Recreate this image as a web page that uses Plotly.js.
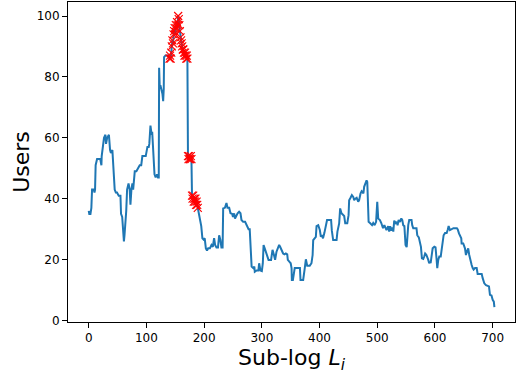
<!DOCTYPE html>
<html>
<head>
<meta charset="utf-8">
<script src="https://cdn.plot.ly/plotly-3.0.1.min.js"></script>
<style>html,body{margin:0;padding:0;background:#fff;}#chart{width:519px;height:374px;}</style>
</head>
<body>
<div id="chart"></div>
<script>
// Sub-log index (x) and number of users (y)
const subLog = [
  0,1,3,4.6,5.8,8.7,10,11,12,14.5,20,21,22,22.5,25,26.5,29,30,32,35,37,38.5,41,43.4,45,47,49,52,55,56,58,59.5,61,62,63.5,65,66.5,69,71,72.3,74,75.7,77,78.6,79.8,82.6,85.5,88.4,91,93,98.8,100,101.7,104,105,107,109,110,111.5,114,116,118.5,120,121.4,122,123,124.5,127.7,129,130,130.6,133,137.5,139,
  140,141,142,143,144,145,146,147,148,149,150,151,152,153,154,155,156,157,158,159,160,161,162,163,164,165,166,167,168,169,170,171,172,173,174,175,176,177,178,179,180,181,182,183,184,185,186,187,188,189,
  192.5,195,197,199,201,203,205,207,210,212.7,215,217.3,219,221.4,224,226,228,230,232,233,236,238.7,240.5,243.4,245.7,248.6,250,252,253.5,256,258,260.6,263,264.7,267.6,271,273.4,277,279,280.6,282.3,285,287,287.8,291,294,295.3,297.6,300,301.7,303,305,308,310,311.6,316,318.5,320.8,323,325.4,328,330,331.7,334,336.9,339.3,341.6,344,345,347.6,350,351.5,352,353.8,355.5,357,363,366,367,371.6,374,376.3,378.6,383,386,388,389,391.4,393.6,394.8,397.7,400.5,402.3,404,406,408.3,411,413,416.4,420,421.3,423.6,429.5,431,434,435.7,438,439.5,442.7,444.5,448,450.3,451.3,453.7,456,458.4,460,462,464.3,467,468.6,471,473,474.7,476,477.3,479.8,481.5,482.7,484,485,487.4,491,493,495.4,498,499,500,501.7,504.6,507,510,512.3,514.3,516,519,520.7,522.4,524.1,526,527.8,529.4,531.7,533.5,535.2,537,539.4,541.7,543.4,545,547,548,549,551,552,553.7,555.4,559.4,560.6,562.4,568,569.3,572,574,575.7,577.4,579.7,581.4,583,585,586.7,588.4,590,591.4,592.5,594.2,596,598.9,601,602.9,604,605.7,607.5,610,611.6,613.3,615,617.4,620.3,622,623.7,626,629,632,638,639.5,641.6,643.3,645.6,646.2,649,652,653.7,655.4,657.6,659.4,661,663.6,665.4,667,669.4,672.3,674,681,682.7,685.5,688.4,691.3,693.6,695.3,698,700,702,703
];
const users = [
  36,35,35,37,43,43,42,43,51,53,53,51,51,54,58,60,61,58,60,61,56,55,56,50,43,42,42,41,41,35,34,30,26,28,31,36,43,45,43,38,43,45,43,46,49,49,50,51,51,54,54,55.5,57,57,58,64,61,62,56.5,48,47,48,47,47,83,77,77,74.5,72,76,86.5,87,87,86,
  86,87,86,88,90,92,91,94,95,96,94,97,96,98,97,100,99,97,95,93,92,91,90,89,89,88,87,88,87,86,87,86,54,53,54,53,53,54,53,41,40,41,39,40,39,40,38,39,38,37,
  33,31,27,26.6,27,23.7,23,23.7,23.7,24.8,24.2,27,24.8,24,24,28,26.6,24,24,36.8,37,38.6,37,37,35.2,35,34,35.2,33.5,34.8,35.2,35.7,35.2,33,32.4,32.4,31.3,30,30,24.2,17.7,17.2,17.7,16,16.4,16.4,18.8,16.4,16.2,18.8,24.8,23.7,22,21.4,19.9,19.9,23.2,21.7,19.9,22.6,23.7,24.8,24.2,23.2,22,21.7,22,21.7,19.9,19.3,18.8,17.2,13.3,13.3,16.6,17.2,17.2,17.2,13.3,13.3,16.6,20.1,18,18,18.8,21.5,26.4,27,27.5,31,31.3,29.7,27.5,28,27,28.7,31.3,33,33,33,29.5,26.4,26.4,29.2,31.9,36.8,35.2,35,34.3,31.9,31.9,34.6,39.5,40.3,41.2,40.6,39.5,40,40.3,39,39.5,41.7,42.5,42.2,41.7,43.9,45.2,46,45.5,39.5,32.4,32,31.3,32,31.3,32.4,35.7,39,33.5,33,32,30.3,31.3,30.3,29.7,31,29.2,31,29.5,30.5,29.2,32.8,32,32.4,31.3,33,32.4,33.5,33,31.3,31,28,24.8,24.1,27.5,31.3,33,33,31.3,30.3,30.3,28,27.3,25.9,24.2,20.4,20.2,21,22,21.6,21,19.9,18.8,19.3,18.8,20.8,23.7,24.2,24,19.9,17.2,19.9,21,21,23.2,25.9,28,28.7,28.7,29.7,31,29.7,30,30.3,30.3,29.9,28.6,28,27,25.3,25.3,23.7,21.5,22.6,23.7,21.5,19.9,18.2,17.2,16.7,17.2,17.2,15.3,15.3,13.9,12.2,11.6,11.3,11.2,8.4,8.2,6.8,6.2,4.4
];
// flagged (anomalous) sub-log window
const flaggedStart = 140;
const flaggedEnd = 189;

const xTicks = [0,100,200,300,400,500,600,700];
const yTicks = [0,20,40,60,80,100];

const flagX = [], flagY = [];
subLog.forEach((v, i) => { if (v >= flaggedStart && v <= flaggedEnd) { flagX.push(v); flagY.push(users[i]); } });

const traces = [
  {x: subLog, y: users, type: 'scatter', mode: 'lines',
   line: {color: '#1f77b4', width: 2}, hoverinfo: 'skip'},
  {x: flagX, y: flagY, type: 'scatter', mode: 'markers',
   marker: {symbol: 'x-thin', size: 8, color: '#ff0000', line: {color: '#ff0000', width: 1.1}}, hoverinfo: 'skip'}
];

const axisCommon = {
  showline: true, mirror: true, linecolor: '#000', linewidth: 1,
  ticks: 'outside', ticklen: 5, tickwidth: 1, tickcolor: '#000',
  showgrid: false, zeroline: false,
  tickfont: {family: 'DejaVu Sans', size: 12, color: '#000'}
};

const layout = {
  width: 519, height: 374,
  margin: {l: 68, r: 4, t: 2, b: 52},
  paper_bgcolor: '#fff', plot_bgcolor: '#fff',
  showlegend: false,
  font: {family: 'DejaVu Sans', color: '#000'},
  xaxis: Object.assign({}, axisCommon, {
    range: [-35.9, 738.7], tickmode: 'array', tickvals: xTicks, ticktext: xTicks.map(String),
    title: {text: 'Sub-log <i>L<sub>i</sub></i>', font: {family: 'DejaVu Sans', size: 22, color: '#000'}, standoff: 4}
  }),
  yaxis: Object.assign({}, axisCommon, {
    range: [-0.5, 104.6], tickmode: 'array', tickvals: yTicks, ticktext: yTicks.map(String),
    title: {text: 'Users', font: {family: 'DejaVu Sans', size: 22, color: '#000'}, standoff: 0}
  })
};

Plotly.newPlot('chart', traces, layout, {displayModeBar: false, staticPlot: true});
</script>
</body>
</html>
